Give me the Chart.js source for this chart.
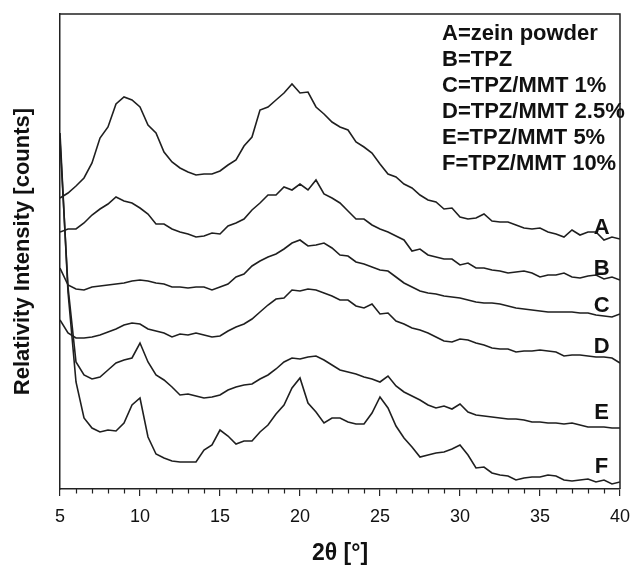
<!DOCTYPE html>
<html>
<head>
<meta charset="utf-8">
<script src="https://cdn.jsdelivr.net/npm/chart.js@4.4.1/dist/chart.umd.min.js"></script>
<style>
  html, body { margin: 0; padding: 0; background: #ffffff; }
  #wrap { width: 640px; height: 571px; }
</style>
</head>
<body>
<div id="wrap"><canvas id="c" width="640" height="571"></canvas></div>
<script>
// 2θ positions (degrees)
const twoTheta = [5,5.5,6,6.5,7,7.5,8,8.5,9,9.5,10,10.5,11,11.5,12,12.5,13,13.5,14,14.5,15,15.5,16,16.5,17,17.5,18,18.5,19,19.5,20,20.5,21,21.5,22,22.5,23,23.5,24,24.5,25,25.5,26,26.5,27,27.5,28,28.5,29,29.5,30,30.5,31,31.5,32,32.5,33,33.5,34,34.5,35,35.5,36,36.5,37,37.5,38,38.5,39,39.5,40];

// Relative intensities (arbitrary counts, vertically offset as in the figure)
const seriesA = [291,296,303,311,326,351,362,385,392,389,382,364,356,337,327,321,317,314,315,315,318,324,329,343,352,379,382,389,396,405,396,397,382,375,367,362,359,347,342,336,325,315,312,305,301,294,289,287,280,281,272,270,271,275,268,267,267,264,261,260,261,257,255,252,259,254,257,257,249,252,250];
const seriesB = [257,260,260,266,274,280,285,292,288,286,281,275,265,265,260,257,255,252,253,256,255,263,266,270,279,286,294,294,302,299,305,299,309,295,291,286,278,270,270,264,260,257,253,249,238,240,234,232,230,230,224,226,221,221,219,218,216,217,218,216,212,214,214,216,212,211,213,214,210,212,209];
const seriesC = [221,204,200,199,202,203,204,205,206,208,209,208,206,205,202,202,201,202,202,199,202,205,212,215,223,228,232,235,240,246,249,243,244,246,241,234,233,227,225,222,219,218,212,206,202,198,196,195,193,192,191,189,187,186,186,185,183,181,180,179,178,177,177,177,177,176,176,174,173,172,175];
const seriesD = [169,156,151,151,152,154,157,160,164,166,165,160,158,156,152,155,154,156,154,152,153,158,162,165,170,177,184,190,191,199,198,200,199,196,193,189,189,183,181,185,175,176,168,165,161,159,156,152,148,147,150,149,146,144,141,140,140,137,138,138,139,138,137,133,134,134,133,132,132,131,126];
const seriesE = [349,202,127,114,110,112,119,126,129,131,146,127,114,109,102,94,95,93,91,92,94,99,102,104,105,110,114,120,127,131,130,132,133,129,124,119,117,115,112,110,107,113,103,97,93,89,84,81,83,80,85,77,74,73,72,71,70,70,69,67,67,66,66,65,66,64,62,62,62,61,61];
const seriesF = [356,197,107,71,61,57,59,58,66,84,91,52,35,31,28,27,27,27,39,44,59,53,45,48,48,57,64,75,84,101,111,86,77,66,71,71,67,65,65,76,92,81,63,51,42,32,34,36,37,40,44,34,21,22,16,14,13,9,11,12,12,14,13,9,8,9,10,7,9,5,7];

const curveLetters = ['A','B','C','D','E','F'];
const legendLines = ['A=zein powder','B=TPZ','C=TPZ/MMT 1%','D=TPZ/MMT 2.5%','E=TPZ/MMT 5%','F=TPZ/MMT 10%'];
const xTickMajor = [5,10,15,20,25,30,35,40];

// label anchors for the curve letters (in data units)
const letterX = 38.85;
const letterY = [261,220,183,142,76,22];

const allSeries = [seriesA, seriesB, seriesC, seriesD, seriesE, seriesF];
const LINE = '#1f1f1f';
const INK = '#111111';
const FONT = "'Liberation Sans', Arial, Helvetica, sans-serif";

const datasets = allSeries.map((s, i) => ({
  label: curveLetters[i],
  data: s.map((v, j) => ({ x: twoTheta[j], y: v })),
  borderColor: LINE,
  borderWidth: 1.6,
  pointRadius: 0,
  tension: 0,
  fill: false
}));

const decorPlugin = {
  id: 'decor',
  afterDraw(chart) {
    const { ctx, chartArea, scales } = chart;
    const xs = scales.x, ys = scales.y;
    ctx.save();
    // frame top & right
    ctx.strokeStyle = '#222';
    ctx.lineWidth = 1.5;
    ctx.beginPath();
    ctx.moveTo(chartArea.left, chartArea.top);
    ctx.lineTo(chartArea.right, chartArea.top);
    ctx.lineTo(chartArea.right, chartArea.bottom);
    ctx.stroke();
    // minor ticks
    ctx.lineWidth = 1.2;
    ctx.beginPath();
    for (let v = 5; v <= 40; v += 1) {
      if (xTickMajor.includes(v)) continue;
      const px = Math.round(xs.getPixelForValue(v)) + 0.5;
      ctx.moveTo(px, chartArea.bottom);
      ctx.lineTo(px, chartArea.bottom + 4.5);
    }
    ctx.stroke();
    // curve letters
    ctx.fillStyle = INK;
    ctx.font = 'bold 22px ' + FONT;
    ctx.textAlign = 'center';
    ctx.textBaseline = 'middle';
    curveLetters.forEach((l, i) => {
      ctx.fillText(l, xs.getPixelForValue(letterX), ys.getPixelForValue(letterY[i]));
    });
    // legend text block
    ctx.textAlign = 'left';
    ctx.textBaseline = 'alphabetic';
    legendLines.forEach((t, i) => {
      ctx.fillText(t, 442, 40 + 26 * i);
    });
    ctx.restore();
  }
};

new Chart(document.getElementById('c'), {
  type: 'line',
  data: { datasets },
  plugins: [decorPlugin],
  options: {
    responsive: false,
    animation: false,
    devicePixelRatio: 1,
    layout: { padding: { left: 0, right: 11, top: 14, bottom: 0 } },
    plugins: { legend: { display: false }, tooltip: { enabled: false } },
    scales: {
      x: {
        type: 'linear',
        min: 5, max: 40,
        ticks: {
          stepSize: 5,
          color: INK,
          padding: 10,
          font: { family: FONT, size: 18 },
          maxRotation: 0
        },
        grid: { drawOnChartArea: false, tickLength: 7, color: '#222', lineWidth: 1.2 },
        border: { color: '#222', width: 1.5 },
        title: {
          display: true,
          text: '2θ [°]',
          color: INK,
          font: { family: FONT, size: 23, weight: 'bold' },
          padding: { top: 0, bottom: 4 }
        },
        afterFit(s) { s.height = 82; }
      },
      y: {
        min: 0, max: 475,
        ticks: { display: false },
        grid: { display: false },
        border: { color: '#222', width: 1.5 },
        title: {
          display: true,
          text: 'Relativity Intensity [counts]',
          color: INK,
          font: { family: FONT, size: 22, weight: 'bold' },
          padding: { top: 10, bottom: 0 }
        },
        afterFit(s) { s.width = 60; }
      }
    }
  }
});
</script>
</body>
</html>
